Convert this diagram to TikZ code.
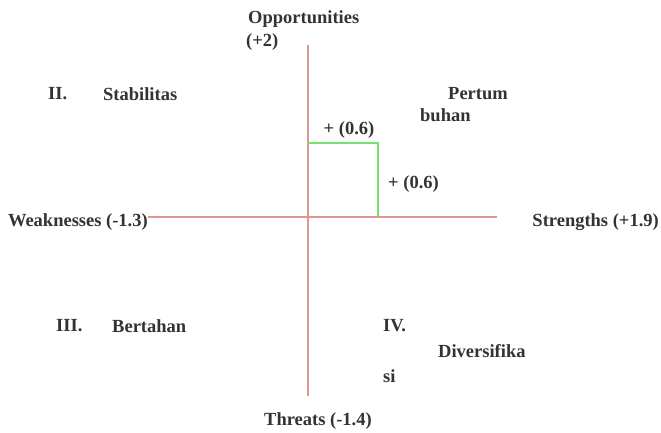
\documentclass[tikz,border=0pt]{standalone}
\usepackage{fontspec}
\setmainfont{Liberation Serif}[BoldFont={Liberation Serif Bold}]
\begin{document}
\begin{tikzpicture}[x=1pt,y=-1pt,
  lbl/.style={font=\fontsize{18.5}{21}\selectfont\bfseries, text=black!80, inner sep=0pt},
  axis/.style={draw={rgb,255:red,222;green,150;blue,145}, line width=1.8pt},
  grn/.style={draw={rgb,255:red,120;green,225;blue,110}, line width=1.6pt}]
\useasboundingbox (0,0) rectangle (661,433);
\fill[white] (0,0) rectangle (661,433);
% axes
\coordinate (vt) at (308,45);
\coordinate (vb) at (308,396);
\coordinate (hl) at (148,217);
\coordinate (hr) at (497,217);
\draw[axis] (vt) -- (vb);
\draw[axis] (hl) -- (hr);
% green box
\coordinate (g1) at (308,143);
\coordinate (g2) at (378,143);
\coordinate (g3) at (378,217);
\draw[grn] (g1) -- (g2) -- (g3);
% labels
\node[lbl, anchor=west] (opp) at (248,19) {Opportunities};
\node[lbl, anchor=west] (opp2) at (246,42) {(+2)};
\node[lbl, anchor=west] (q2) at (48,94) {II.};
\node[lbl, anchor=west] (stab) at (103,94) {Stabilitas};
\node[lbl, anchor=east] (per1) at (508,94) {Pertum};
\node[lbl, anchor=west] (per2) at (420,115) {buhan};
\node[lbl, anchor=center] (c1) at (349,130) {+ (0.6)};
\node[lbl, anchor=west] (c2) at (388,184) {+ (0.6)};
\node[lbl, anchor=east] (weak) at (148,222) {Weaknesses (-1.3)};
\node[lbl, anchor=east] (str) at (659,222) {Strengths (+1.9)};
\node[lbl, anchor=west] (q3) at (56,326) {III.};
\node[lbl, anchor=west] (bert) at (112,326) {Bertahan};
\node[lbl, anchor=west] (q4) at (383,326) {IV.};
\node[lbl, anchor=west] (div) at (438,351) {Diversifika};
\node[lbl, anchor=west] (si) at (383,376) {si};
\node[lbl, anchor=center] (thr) at (318,421) {Threats (-1.4)};
\end{tikzpicture}
\end{document}
